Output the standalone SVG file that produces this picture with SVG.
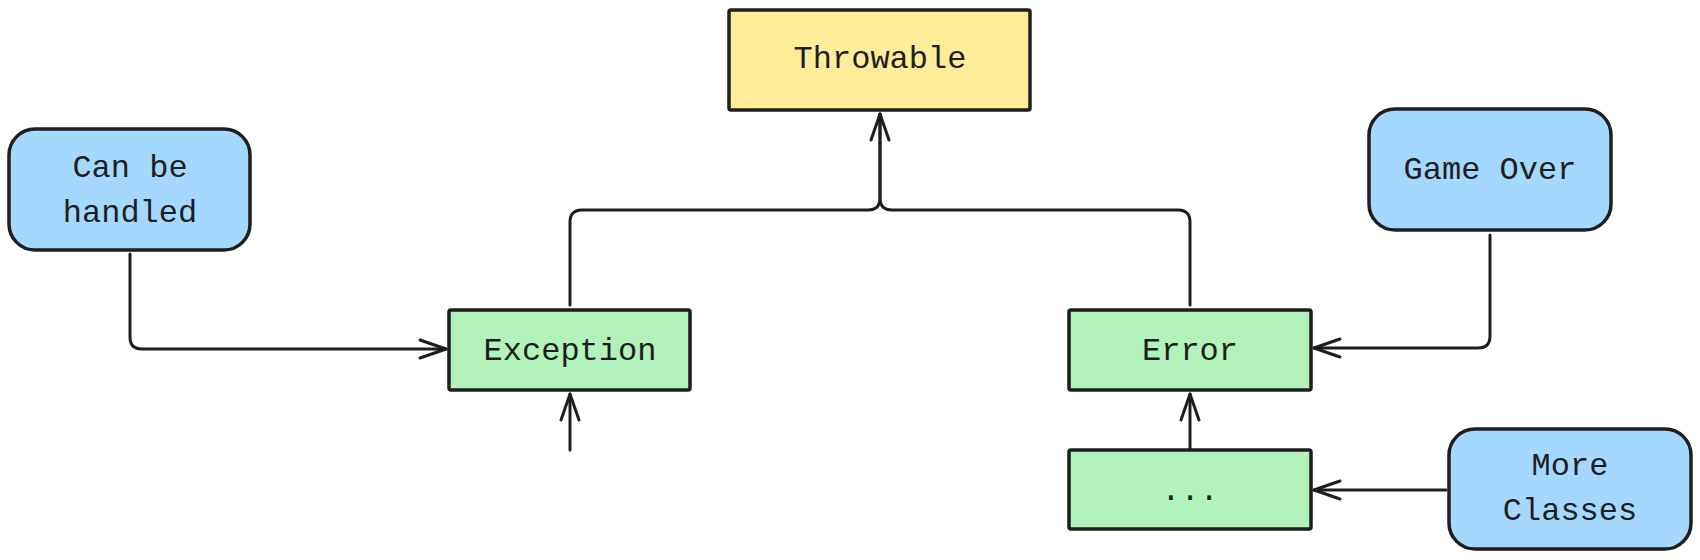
<svg xmlns="http://www.w3.org/2000/svg" width="1700" height="560" viewBox="0 0 1700 560">
<defs>
<style>
.box{stroke:#1e1e1e;stroke-width:3.5;stroke-linejoin:round}
.yellow{fill:#ffec99}
.green{fill:#b2f2bb}
.blue{fill:#a5d8ff}
.lbl{font-family:"Liberation Mono","DejaVu Sans Mono",monospace;font-size:32px;fill:#1e1e1e;text-anchor:middle}
.edge{fill:none;stroke:#1e1e1e;stroke-width:3;stroke-linecap:round;stroke-linejoin:round}
</style>
<marker id="arr" markerUnits="userSpaceOnUse" markerWidth="40" markerHeight="30" viewBox="-30 -15 40 30" refX="0" refY="0" orient="auto" overflow="visible">
<path d="M-26,-9 L0,0 L-26,9" fill="none" stroke="#1e1e1e" stroke-width="3" stroke-linecap="round" stroke-linejoin="round"/>
</marker>
</defs>
<rect width="1700" height="560" fill="#ffffff"/>
<g id="connectors">
<path class="edge" d="M570,305 L570,222 Q570,210 582,210 L868,210 Q880,210 880,198 L880,114"/>
<path class="edge" d="M1190,305 L1190,222 Q1190,210 1178,210 L892,210 Q880,210 880,198 L880,114" marker-end="url(#arr)"/>
<path class="edge" d="M130,254 L130,337 Q130,349 142,349 L446,349" marker-end="url(#arr)"/>
<path class="edge" d="M1490,235 L1490,336 Q1490,348 1478,348 L1314,348" marker-end="url(#arr)"/>
<path class="edge" d="M1446,490 L1314,490" marker-end="url(#arr)"/>
<path class="edge" d="M1190,450 L1190,394" marker-end="url(#arr)"/>
<path class="edge" d="M570,450 L570,394" marker-end="url(#arr)"/>
</g>
<g id="throwable">
<rect class="box yellow" x="729" y="10" width="301" height="100" rx="2"/>
<text class="lbl" x="880" y="68">Throwable</text>
</g>
<g id="can-be-handled">
<rect class="box blue" x="9" y="129" width="241" height="121" rx="26"/>
<text class="lbl" x="130" y="177">Can be</text>
<text class="lbl" x="130" y="222">handled</text>
</g>
<g id="exception">
<rect class="box green" x="449" y="310" width="241" height="80" rx="2"/>
<text class="lbl" x="570" y="360">Exception</text>
</g>
<g id="error">
<rect class="box green" x="1069" y="310" width="242" height="80" rx="2"/>
<text class="lbl" x="1190" y="360">Error</text>
</g>
<g id="ellipsis">
<rect class="box green" x="1069" y="450" width="242" height="79" rx="2"/>
<text class="lbl" x="1190" y="500">...</text>
</g>
<g id="game-over">
<rect class="box blue" x="1369" y="109" width="242" height="121" rx="26"/>
<text class="lbl" x="1490" y="179">Game Over</text>
</g>
<g id="more-classes">
<rect class="box blue" x="1449" y="429" width="242" height="120" rx="26"/>
<text class="lbl" x="1570" y="475">More</text>
<text class="lbl" x="1570" y="520">Classes</text>
</g>
</svg>
